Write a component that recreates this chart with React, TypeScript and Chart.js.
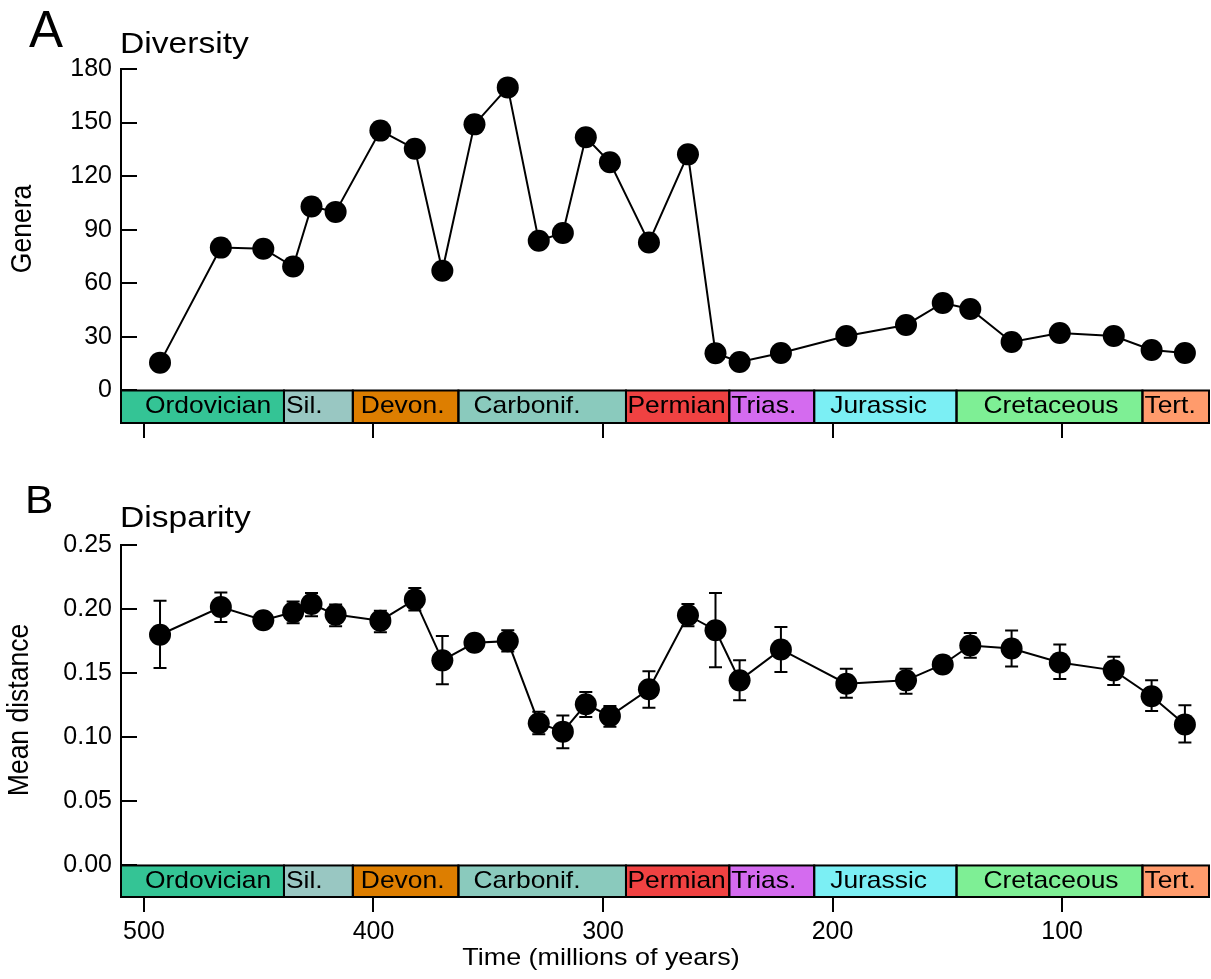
import React, { useEffect, useRef } from "react";
import { Chart, registerables } from "chart.js";

Chart.register(...registerables);

// ---------- data ----------
const TIME = [493, 466.5, 448, 435, 427, 416.5, 397, 382, 370, 356, 341.5, 328, 317.5, 307.5, 297, 280, 263, 251, 240.5, 222.5, 194, 168, 152, 140, 122, 101, 77.5, 61, 46.5];
const GENERA = [15.6, 80, 79.4, 69.4, 103, 100, 145.5, 135.3, 67, 149, 169.7, 83.8, 88.2, 141.8, 127.8, 82.9, 132.2, 20.9, 16, 21, 30.5, 36.7, 49, 45.6, 27.2, 32.2, 30.5, 22.7, 21];
const DISPARITY = [0.180, 0.2016, 0.1913, 0.1975, 0.204, 0.1957, 0.191, 0.2074, 0.160, 0.1737, 0.175, 0.111, 0.1044, 0.1257, 0.1166, 0.1374, 0.1952, 0.1835, 0.1444, 0.1685, 0.1418, 0.1444, 0.1568, 0.1716, 0.1693, 0.1584, 0.1522, 0.132, 0.110];
const DISP_HI = [0.2066, 0.213, 0.1945, 0.206, 0.2125, 0.2035, 0.1988, 0.2164, 0.179, 0.177, 0.1835, 0.120, 0.117, 0.1353, 0.1244, 0.1516, 0.204, 0.2125, 0.160, 0.186, 0.1534, 0.1534, 0.160, 0.1814, 0.1833, 0.1724, 0.1628, 0.1444, 0.125];
const DISP_LO = [0.154, 0.190, 0.188, 0.189, 0.1944, 0.1866, 0.182, 0.199, 0.1413, 0.1705, 0.167, 0.1024, 0.0915, 0.1159, 0.1083, 0.123, 0.1866, 0.1547, 0.1288, 0.151, 0.1309, 0.134, 0.1535, 0.162, 0.1553, 0.1454, 0.1407, 0.1205, 0.0959];

const GENERA_TICKS = [0, 30, 60, 90, 120, 150, 180];
const DISP_TICKS = [0, 0.05, 0.1, 0.15, 0.2, 0.25];
const TIME_TICKS = [500, 400, 300, 200, 100];
const TIME_MIN = 36;
const TIME_MAX = 510;

const PERIODS = ["Ordovician", "Sil.", "Devon.", "Carbonif.", "Permian", "Trias.", "Jurassic", "Cretaceous", "Tert."];
const PERIOD_START = [510, 439, 409, 363, 290, 245, 208, 146, 65];
const PERIOD_END = [439, 409, 363, 290, 245, 208, 146, 65, 1.64];
const PERIOD_COLORS = ["#34C495", "#99C7C2", "#DD7E00", "#8ACABD", "#F04242", "#D46BEF", "#7BEFF4", "#7EEF95", "#FF9B6C"];
const PERIOD_LABEL_PAD = [24, 2, 8, 15, 1.5, 2, 16, 27, 2];

const FONT = "'Liberation Sans', Arial, Helvetica, sans-serif";

function drawText(ctx, s, x, y, size, o: any = {}) {
  ctx.save();
  ctx.translate(x, y);
  if (o.rotate) ctx.rotate(-Math.PI / 2);
  ctx.scale(o.sx || 1, o.sy || 1);
  ctx.font = `${size}px ${FONT}`;
  ctx.fillStyle = "#000";
  ctx.textAlign = o.align || "left";
  ctx.textBaseline = o.baseline || "alphabetic";
  ctx.fillText(s, 0, 0);
  ctx.restore();
}

function makePlugin(p) {
  return {
    id: "panelDeco",
    beforeDatasetsDraw(chart) {
      if (!p.lo) return;
      const ctx = chart.ctx;
      const xs = chart.scales.x;
      const ys = chart.scales.y;
      ctx.save();
      ctx.strokeStyle = "#000";
      ctx.lineWidth = 2;
      for (let i = 0; i < TIME.length; i++) {
        const px = xs.getPixelForValue(TIME[i]);
        const y1 = ys.getPixelForValue(p.hi[i]);
        const y2 = ys.getPixelForValue(p.lo[i]);
        ctx.beginPath();
        ctx.moveTo(px, y1);
        ctx.lineTo(px, y2);
        ctx.moveTo(px - 6.5, y1);
        ctx.lineTo(px + 6.5, y1);
        ctx.moveTo(px - 6.5, y2);
        ctx.lineTo(px + 6.5, y2);
        ctx.stroke();
      }
      ctx.restore();
    },
    afterDraw(chart) {
      const ctx = chart.ctx;
      const xs = chart.scales.x;
      const ys = chart.scales.y;
      const ca = chart.chartArea;
      ctx.save();
      ctx.strokeStyle = "#000";
      ctx.lineWidth = 2;
      for (const v of p.yTicks) {
        const py = Math.round(ys.getPixelForValue(v));
        ctx.beginPath();
        ctx.moveTo(ca.left, py);
        ctx.lineTo(ca.left + 16, py);
        ctx.stroke();
      }
      const yTop = ys.getPixelForValue(0);
      const yBot = ca.bottom;
      for (let i = 0; i < PERIODS.length; i++) {
        const xa = xs.getPixelForValue(Math.min(PERIOD_START[i], TIME_MAX));
        const xb = xs.getPixelForValue(Math.max(PERIOD_END[i], TIME_MIN));
        ctx.fillStyle = PERIOD_COLORS[i];
        ctx.fillRect(xa, yTop, xb - xa, yBot - yTop);
      }
      for (let i = 0; i < PERIODS.length; i++) {
        const xa = xs.getPixelForValue(Math.min(PERIOD_START[i], TIME_MAX));
        const xb = xs.getPixelForValue(Math.max(PERIOD_END[i], TIME_MIN));
        ctx.strokeStyle = "#000";
        ctx.lineWidth = 2;
        ctx.strokeRect(xa, yTop, xb - xa, yBot - yTop);
        drawText(ctx, PERIODS[i], xa + PERIOD_LABEL_PAD[i], yTop + 23, 24, { sx: 1.1 });
      }
      drawText(ctx, p.letter, p.letterX, p.letterY, p.letterSize, { sx: p.letterSx });
      drawText(ctx, p.title, 120, p.titleY, 30, { sx: 1.12 });
      drawText(ctx, p.yTitle, p.yTitleX, p.yTitleY, 26.5, { rotate: true, align: "center", sy: 1.1 });
      if (p.xTitle) drawText(ctx, p.xTitle, p.xTitleX, p.xTitleY, 24.5, { align: "center", sx: 1.1 });
      ctx.restore();
    },
  };
}

function Panel(p) {
  const ref = useRef(null);
  useEffect(() => {
    const chart = new Chart(ref.current, {
      type: "line",
      data: {
        datasets: [
          {
            data: TIME.map((t, i) => ({ x: t, y: p.values[i] })),
            borderColor: "#000",
            borderWidth: 2,
            backgroundColor: "#000",
            pointRadius: 11,
            pointBackgroundColor: "#000",
            pointBorderWidth: 0,
            tension: 0,
            fill: false,
            clip: false,
          },
        ],
      },
      options: {
        animation: false,
        responsive: false,
        devicePixelRatio: 1,
        layout: { autoPadding: false, padding: { top: p.padTop, right: 2, left: 0, bottom: 0 } },
        plugins: { legend: { display: false }, tooltip: { enabled: false }, title: { display: false } },
        scales: {
          x: {
            type: "linear",
            reverse: true,
            min: TIME_MIN,
            max: TIME_MAX,
            afterBuildTicks: (s) => {
              s.ticks = TIME_TICKS.map((v) => ({ value: v }));
            },
            afterFit: (s) => {
              s.height = p.xAxisH;
            },
            grid: { display: true, drawOnChartArea: false, drawTicks: true, tickLength: 15, color: "#000", lineWidth: 2 },
            border: { display: false },
            ticks: {
              display: p.showXLabels,
              color: "#000",
              padding: 5,
              maxRotation: 0,
              font: { family: FONT, size: 25 },
              callback: (v) => String(v),
            },
          },
          y: {
            type: "linear",
            min: p.yMin,
            max: p.yMax,
            afterBuildTicks: (s) => {
              s.ticks = p.yTicks.map((v) => ({ value: v }));
            },
            afterFit: (s) => {
              s.width = 121;
            },
            grid: { display: false, drawTicks: false, tickLength: 0 },
            border: { display: true, color: "#000", width: 2 },
            ticks: {
              color: "#000",
              padding: 9,
              font: { family: FONT, size: 25 },
              callback: p.fmt,
            },
          },
        },
      },
      plugins: [makePlugin(p)],
    });
    return () => chart.destroy();
  }, []);
  return <canvas ref={ref} width={1211} height={p.height} style={{ display: "block" }} />;
}

export default function App() {
  return (
    <div style={{ position: "absolute", left: 0, top: 0, width: 1211, height: 979, background: "#fff" }}>
      <Panel
        height={470}
        padTop={69}
        xAxisH={47}
        yMin={-18.2}
        yMax={180}
        yTicks={GENERA_TICKS}
        fmt={(v) => String(v)}
        values={GENERA}
        showXLabels={false}
        letter="A"
        letterSize={51}
        letterSx={1}
        letterX={29}
        letterY={47}
        title="Diversity"
        titleY={53}
        yTitle="Genera"
        yTitleX={31}
        yTitleY={229}
      />
      <Panel
        height={509}
        padTop={75}
        xAxisH={82}
        yMin={-0.0246}
        yMax={0.25}
        yTicks={DISP_TICKS}
        fmt={(v) => Number(v).toFixed(2)}
        values={DISPARITY}
        lo={DISP_LO}
        hi={DISP_HI}
        showXLabels={true}
        letter="B"
        letterSize={38}
        letterSx={1.12}
        letterX={25}
        letterY={43}
        title="Disparity"
        titleY={57}
        yTitle="Mean distance"
        yTitleX={28}
        yTitleY={240}
        xTitle="Time (millions of years)"
        xTitleX={601}
        xTitleY={495}
      />
    </div>
  );
}
